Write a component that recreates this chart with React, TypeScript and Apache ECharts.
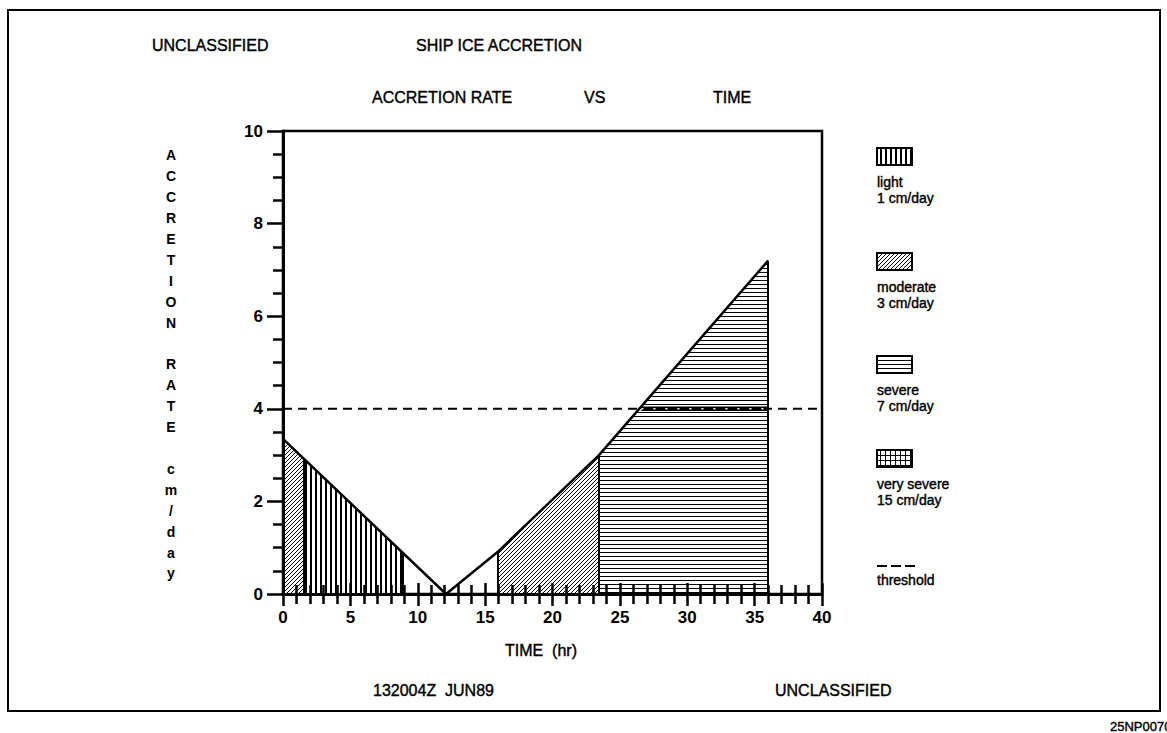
import React, { useEffect, useRef } from "react";
import * as echarts from "echarts";

// ---------- data ----------
const xRange = [0, 40];
const yRange = [0, 10];
const rateLine: [number, number][] = [[0, 3.35], [12.1, 0], [15.9, 0.9], [23.45, 3.0], [36, 7.2]];
const moderateEarly: [number, number][] = [[0, 3.35], [1.55, 2.92]];
const lightBand: [number, number][] = [[1.55, 2.92], [8.85, 0.9]];
const moderateLate: [number, number][] = [[15.9, 0.9], [23.45, 3.0]];
const severeBand: [number, number][] = [[23.45, 3.0], [36, 7.2]];
const dividers: [number, number][] = [[1.55, 2.92], [8.85, 0.9], [15.9, 0.9], [23.45, 3.0], [36, 7.2]];
const thresholdValue = 4;
const thresholdInSevere: [number, number][] = [[26.6, 4], [36, 4]];
const legendNames = ["light", "moderate", "severe", "very severe", "threshold"];
const legendRates = ["1 cm/day", "3 cm/day", "7 cm/day", "15 cm/day", ""];
const yTitleWords = ["ACCRETION", "RATE", "cm/day"];

const FONT = '"Liberation Sans", Arial, Helvetica, sans-serif';

function makeTile(w: number, h: number, draw: (ctx: CanvasRenderingContext2D) => void) {
  const c = document.createElement("canvas");
  c.width = w;
  c.height = h;
  const ctx = c.getContext("2d")!;
  ctx.fillStyle = "#fff";
  ctx.fillRect(0, 0, w, h);
  ctx.fillStyle = "#000";
  draw(ctx);
  return c;
}
const toPattern = (c: HTMLCanvasElement) => ({
  image: c,
  repeat: "repeat",
  imageWidth: c.width,
  imageHeight: c.height,
});

export default function App() {
  const ref = useRef<HTMLDivElement>(null);
  useEffect(() => {
    if (!ref.current) return;
    const chart = echarts.init(ref.current, null, { renderer: "svg" });

    const vertical = toPattern(makeTile(5, 4, (ctx) => ctx.fillRect(0, 0, 2, 4)));
    const horizontal = toPattern(makeTile(4, 4, (ctx) => ctx.fillRect(0, 0, 4, 1)));
    const diagonal = toPattern(
      makeTile(4, 4, (ctx) => {
        for (let i = 0; i < 4; i++) ctx.fillRect(i, 3 - i, 1, 1);
      })
    );
    const grid = toPattern(
      makeTile(5, 5, (ctx) => {
        ctx.fillRect(0, 0, 1, 5);
        ctx.fillRect(0, 0, 5, 1);
      })
    );
    const legendPatterns = [vertical, diagonal, horizontal, grid];

    const area = (data: [number, number][], pattern: any) => ({
      type: "line",
      data,
      symbol: "none",
      silent: true,
      lineStyle: { width: 0 },
      areaStyle: { color: pattern, opacity: 1 },
      z: 2,
    });

    const yLetters = yTitleWords.map((w) => w.split("").join("\n")).join("\n\n");

    const legendEls: any[] = [];
    const legendTops = [148, 253, 356, 450];
    legendPatterns.forEach((p, i) => {
      const top = legendTops[i];
      legendEls.push({
        type: "rect",
        shape: { x: 877, y: top, width: 35, height: 17 },
        style: { fill: p, stroke: "#000", lineWidth: 2 },
      });
      legendEls.push({
        type: "text",
        style: {
          text: legendNames[i] + "\n" + legendRates[i],
          x: 877,
          y: top + 26,
          font: `14px ${FONT}`,
          lineHeight: 16,
          fill: "#000",
          stroke: "#000",
          lineWidth: 0.4,
          textAlign: "left",
          textVerticalAlign: "top",
        },
      });
    });
    [877, 891, 905].forEach((x) =>
      legendEls.push({
        type: "rect",
        shape: { x, y: 565, width: 10, height: 2 },
        style: { fill: "#000" },
      })
    );
    legendEls.push({
      type: "text",
      style: {
        text: legendNames[4],
        x: 877,
        y: 573,
        font: `14px ${FONT}`,
        fill: "#000",
        stroke: "#000",
        lineWidth: 0.4,
        textAlign: "left",
        textVerticalAlign: "top",
      },
    });

    const txt = (text: string, x: number, y: number, align = "left", size = 16) => ({
      type: "text",
      style: {
        text,
        x,
        y,
        font: `${size}px ${FONT}`,
        fill: "#000",
        stroke: "#000",
        lineWidth: 0.4,
        textAlign: align,
        textVerticalAlign: "middle",
      },
    });

    chart.setOption({
      animation: false,
      backgroundColor: "#fff",
      grid: {
        left: 283,
        right: 345,
        top: 131,
        bottom: 139,
        show: true,
        borderColor: "#000",
        borderWidth: 2.5,
      },
      xAxis: [
        {
          type: "value",
          min: xRange[0],
          max: xRange[1],
          interval: 5,
          position: "bottom",
          z: 10,
          axisLine: { onZero: false, lineStyle: { color: "#000", width: 3 } },
          axisTick: { show: true, length: 12, lineStyle: { color: "#000", width: 2.5 } },
          minorTick: { show: true, splitNumber: 5, length: 10, lineStyle: { color: "#000", width: 2.5 } },
          axisLabel: { color: "#000", fontSize: 17, fontWeight: "bold", fontFamily: FONT, margin: 15 },
          splitLine: { show: false },
        },
        {
          type: "value",
          min: xRange[0],
          max: xRange[1],
          interval: 5,
          position: "bottom",
          z: 10,
          axisLine: { show: false, onZero: false },
          axisTick: { show: true, inside: true, length: 11, lineStyle: { color: "#000", width: 2.5 } },
          minorTick: { show: true, splitNumber: 5, length: 9, lineStyle: { color: "#000", width: 2.5 } },
          axisLabel: { show: false },
          splitLine: { show: false },
        },
      ],
      yAxis: {
        type: "value",
        min: yRange[0],
        max: yRange[1],
        interval: 2,
        z: 10,
        axisLine: { show: true, lineStyle: { color: "#000", width: 3 } },
        axisTick: { show: true, length: 16, lineStyle: { color: "#000", width: 2.5 } },
        minorTick: { show: true, splitNumber: 4, length: 10, lineStyle: { color: "#000", width: 2.5 } },
        axisLabel: { color: "#000", fontSize: 17, fontWeight: "bold", fontFamily: FONT, margin: 20 },
        splitLine: { show: false },
      },
      series: [
        area(moderateEarly, diagonal),
        area(lightBand, vertical),
        area(moderateLate, diagonal),
        area(severeBand, horizontal),
        {
          type: "line",
          data: rateLine,
          symbol: "none",
          silent: true,
          lineStyle: { color: "#000", width: 2.5 },
          z: 5,
          markLine: {
            silent: true,
            symbol: ["none", "none"],
            label: { show: false },
            lineStyle: { color: "#000", width: 2, type: "solid" },
            data: dividers.map(([x, y]) => [{ coord: [x, 0] }, { coord: [x, y] }]),
          },
        },
        {
          type: "line",
          data: [[xRange[0], thresholdValue], [xRange[1], thresholdValue]],
          symbol: "none",
          silent: true,
          lineStyle: { color: "#000", width: 2, type: [9, 6] },
          z: 6,
        },
        {
          type: "line",
          data: thresholdInSevere,
          symbol: "none",
          silent: true,
          lineStyle: { color: "#000", width: 4.5 },
          z: 7,
        },
        {
          type: "line",
          data: thresholdInSevere,
          symbol: "none",
          silent: true,
          lineStyle: { color: "#fff", width: 1.5, type: [2, 10] },
          z: 8,
        },
      ],
      graphic: [
        {
          type: "rect",
          shape: { x: 8, y: 10, width: 1152, height: 701 },
          style: { fill: "none", stroke: "#000", lineWidth: 2 },
          z: -1,
        },
        txt("UNCLASSIFIED", 152, 45),
        txt("SHIP ICE ACCRETION", 499, 45, "center"),
        txt("ACCRETION RATE", 372, 97),
        txt("VS", 584, 97),
        txt("TIME", 713, 97),
        txt("TIME  (hr)", 505, 650),
        txt("132004Z  JUN89", 373, 690),
        txt("UNCLASSIFIED", 775, 690),
        txt("25NP0070", 1110, 726, "left", 13),
        {
          type: "text",
          style: {
            text: yLetters,
            x: 171,
            y: 145,
            font: `bold 14px ${FONT}`,
            lineHeight: 20.9,
            fill: "#000",
            textAlign: "center",
            textVerticalAlign: "top",
          },
        },
        ...legendEls,
      ],
    });
    return () => chart.dispose();
  }, []);
  return (
    <div
      ref={ref}
      style={{ position: "absolute", left: 0, top: 0, width: 1167, height: 733, background: "#fff" }}
    />
  );
}
